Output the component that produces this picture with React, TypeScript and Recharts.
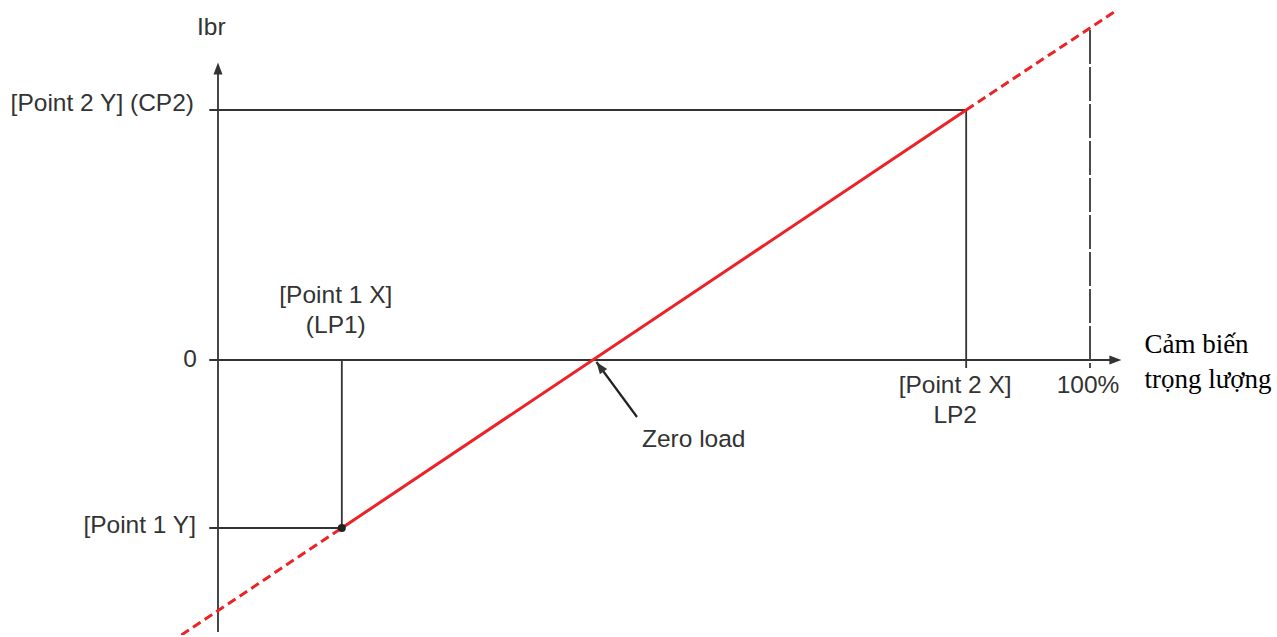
import { FC } from "react";
import {
  ComposedChart,
  Line,
  ReferenceDot,
  ReferenceLine,
  XAxis,
  YAxis,
} from "recharts";

// points along the Ibr line (load sensor %, Ibr)
const loadX = [-4.2, 14.2, 85.8, 103.1];
const ibrY = [-110, -67.2, 100, 140];

const point1X = loadX[1];
const point1Y = ibrY[1];
const point2X = loadX[2];
const point2Y = ibrY[2];
const fullScaleX = 100;

const yTickLabels = ["[Point 1 Y]", "0", "[Point 2 Y] (CP2)"];
const xTickLabels = [["[Point 1 X]", "(LP1)"], ["[Point 2 X]", "LP2"], ["100%"]];
const yAxisTitle = "Ibr";
const xAxisTitle = ["Cảm biến", "trọng lượng"];
const zeroLoadLabel = "Zero load";

// axis extents and annotation arrow
const yAxisTop = 119;
const yAxisBottom = -108.8;
const xAxisEnd = 103.6;
const tickStart = -1.0;
const tickBelow = -3.2;
const fullScaleTop = 132;
const zeroArrowTail = { x: 48.05, y: -22.8 };
const zeroArrowTip = { x: 43.4, y: -0.8 };

const rows = loadX.map((x, i) => ({
  x,
  lo: i <= 1 ? ibrY[i] : null,
  mid: i >= 1 && i <= 2 ? ibrY[i] : null,
  hi: i >= 2 ? ibrY[i] : null,
}));

const INK = "#333";
const RED = "#ec2227";
const SANS = "Liberation Sans, Arial, sans-serif";
const SERIF = "Liberation Serif, Times New Roman, serif";

const TextBlock = (props: any) => {
  const { cx, cy, lines, dx, dys, anchor, size, family, fill } = props;
  return (
    <g>
      {lines.map((t: string, i: number) => (
        <text
          key={i}
          x={cx + dx}
          y={cy + dys[i]}
          textAnchor={anchor}
          fontSize={size}
          fontFamily={family}
          fill={fill}
        >
          {t}
        </text>
      ))}
    </g>
  );
};

const Arrow = (props: any) => {
  const { cx, cy, angle } = props;
  return (
    <polygon
      points="0,0 -12,-4.5 -12,4.5"
      transform={`translate(${cx},${cy}) rotate(${angle})`}
      fill={INK}
    />
  );
};

const sansLabel = (lines: string[], dx: number, dys: number[], anchor = "middle") =>
  (p: any) => (
    <TextBlock
      cx={p.cx}
      cy={p.cy}
      lines={lines}
      dx={dx}
      dys={dys}
      anchor={anchor}
      size={24.5}
      family={SANS}
      fill="#333"
    />
  );

const App: FC = () => {
  return (
    <div style={{ position: "absolute", left: 0, top: 0, background: "#fff" }}>
      <ComposedChart
        width={1277}
        height={637}
        data={rows}
        margin={{ top: 0, right: 134.68, bottom: 2, left: 165.68 }}
      >
        <XAxis
          hide
          type="number"
          dataKey="x"
          domain={[-6, 106]}
          allowDataOverflow
        />
        <YAxis hide type="number" domain={[-110, 144]} allowDataOverflow />

        {/* axes */}
        <ReferenceLine
          segment={[{ x: 0, y: yAxisBottom }, { x: 0, y: yAxisTop - 2 }]}
          stroke={INK}
          strokeWidth={1.8}
        />
        <ReferenceLine
          segment={[{ x: tickStart, y: 0 }, { x: xAxisEnd - 0.6, y: 0 }]}
          stroke={INK}
          strokeWidth={1.8}
        />

        {/* guide lines */}
        <ReferenceLine
          segment={[{ x: tickStart, y: point2Y }, { x: point2X, y: point2Y }]}
          stroke={INK}
          strokeWidth={1.8}
        />
        <ReferenceLine
          segment={[{ x: point2X, y: point2Y }, { x: point2X, y: tickBelow }]}
          stroke={INK}
          strokeWidth={1.8}
        />
        <ReferenceLine
          segment={[{ x: tickStart, y: point1Y }, { x: point1X, y: point1Y }]}
          stroke={INK}
          strokeWidth={1.8}
        />
        <ReferenceLine
          segment={[{ x: point1X, y: 0 }, { x: point1X, y: point1Y }]}
          stroke={INK}
          strokeWidth={1.8}
        />
        <ReferenceLine
          segment={[{ x: fullScaleX, y: fullScaleTop }, { x: fullScaleX, y: tickBelow }]}
          stroke="#4a4a4a"
          strokeWidth={2}
          strokeDasharray="34 3"
        />
        <ReferenceLine
          segment={[zeroArrowTail, zeroArrowTip]}
          stroke="#222"
          strokeWidth={2.2}
        />

        {/* Ibr line */}
        <Line
          dataKey="lo"
          type="linear"
          stroke={RED}
          strokeWidth={3}
          strokeDasharray="9 5"
          dot={false}
          activeDot={false}
          isAnimationActive={false}
        />
        <Line
          dataKey="mid"
          type="linear"
          stroke={RED}
          strokeWidth={3}
          dot={false}
          activeDot={false}
          isAnimationActive={false}
        />
        <Line
          dataKey="hi"
          type="linear"
          stroke={RED}
          strokeWidth={3}
          strokeDasharray="9 5"
          dot={false}
          activeDot={false}
          isAnimationActive={false}
        />

        <ReferenceDot x={point1X} y={point1Y} r={4} fill="#222" stroke="none" />

        {/* arrowheads */}
        <ReferenceDot x={0} y={yAxisTop} shape={(p: any) => <Arrow cx={p.cx} cy={p.cy} angle={-90} />} />
        <ReferenceDot x={xAxisEnd} y={0} shape={(p: any) => <Arrow cx={p.cx} cy={p.cy} angle={0} />} />
        <ReferenceDot
          x={zeroArrowTip.x}
          y={zeroArrowTip.y}
          shape={(p: any) => <Arrow cx={p.cx} cy={p.cy} angle={-126} />}
        />

        {/* y tick labels */}
        <ReferenceDot x={0} y={point1Y} shape={sansLabel([yTickLabels[0]], -22, [5], "end")} />
        <ReferenceDot x={0} y={0} shape={sansLabel([yTickLabels[1]], -21, [7], "end")} />
        <ReferenceDot x={0} y={point2Y} shape={sansLabel([yTickLabels[2]], -24, [1], "end")} />

        {/* x tick labels */}
        <ReferenceDot x={point1X} y={0} shape={sansLabel(xTickLabels[0], -6, [-57, -27])} />
        <ReferenceDot x={point2X} y={0} shape={sansLabel(xTickLabels[1], -11, [33, 63])} />
        <ReferenceDot x={fullScaleX} y={0} shape={sansLabel(xTickLabels[2], -2, [33])} />

        {/* titles */}
        <ReferenceDot x={0} y={yAxisTop} shape={sansLabel([yAxisTitle], -21, [-27.5], "start")} />
        <ReferenceDot
          x={zeroArrowTail.x}
          y={zeroArrowTail.y}
          shape={sansLabel([zeroLoadLabel], 5, [30], "start")}
        />
        <ReferenceDot
          x={xAxisEnd}
          y={0}
          shape={(p: any) => (
            <TextBlock
              cx={p.cx}
              cy={p.cy}
              lines={xAxisTitle}
              dx={23}
              dys={[-7, 28]}
              anchor="start"
              size={27}
              family={SERIF}
              fill="#000"
            />
          )}
        />
      </ComposedChart>
    </div>
  );
};

export default App;
